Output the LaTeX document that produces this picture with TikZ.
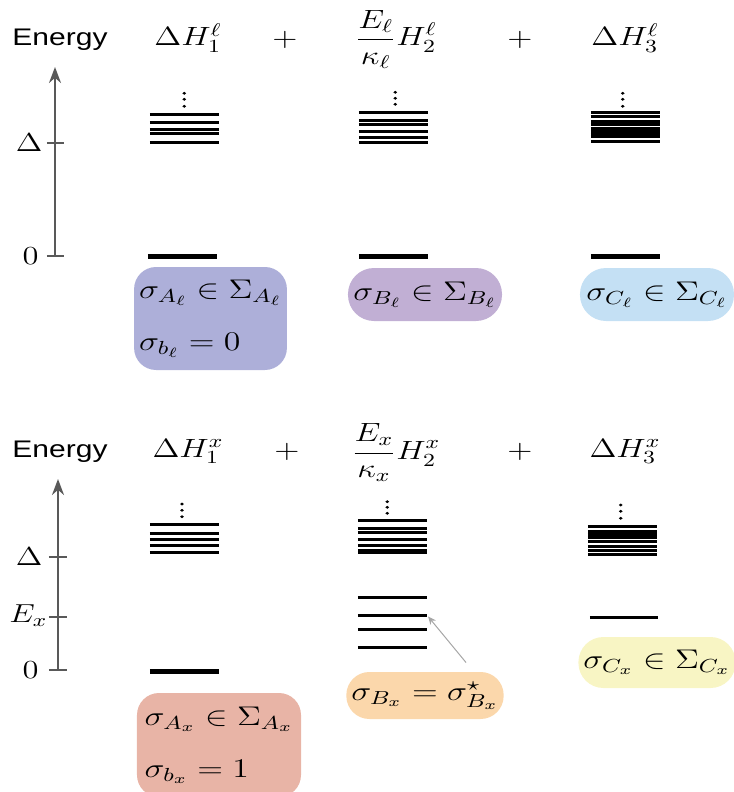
\RequirePackage{fix-cm}
\documentclass[tikz,border=0pt]{standalone}
\usepackage{fontspec}
\setsansfont{Liberation Sans}
\usetikzlibrary{arrows.meta,calc}

\definecolor{boxAl}{RGB}{173,175,217}
\definecolor{boxBl}{RGB}{193,175,212}
\definecolor{boxCl}{RGB}{196,224,244}
\definecolor{boxAx}{RGB}{232,180,166}
\definecolor{boxBx}{RGB}{251,215,171}
\definecolor{boxCx}{RGB}{248,245,196}

\tikzset{
	energy/.style={font=\fontsize{12}{14}\selectfont\sffamily},
	head/.style={font=\fontsize{13.2}{15}\selectfont, inner sep=0pt},
	lbl/.style={font=\fontsize{13}{16}\selectfont, inner sep=0pt},
	axis/.style={line width=1pt, black!65},
	lvl/.style={line width=1.5pt},
	gnd/.style={line width=2.5pt},
	pill/.style={font=\fontsize{13.5}{26}\selectfont, inner xsep=2pt, rounded corners=13pt},
	pointer/.style={line width=.5pt, black!35, -{Stealth[length=4pt, width=3.5pt]}}
}

\begin{document}
\begin{tikzpicture}[xscale=1.25, x=0.4pt, y=-0.5pt, transform shape]
	\useasboundingbox (0,0) rectangle (734,792);
	
	% upper panel
	\node[energy, anchor=base] (en1) at (60,46){Energy};
	\draw[axis, -{Stealth[length=8pt, width=6pt]}] (55,256) -- (55,67);
	\draw[axis] (47,143) -- (64,143);
	\draw[axis] (47,256) -- (64,256);
	\node[lbl, anchor=east] (d1) at (43,143){$\Delta$};
	\node[lbl, anchor=east] (z1) at (39,256){$0$};
	
	\node[head, anchor=base] (h1l) at (188,46){$\Delta H_1^\ell$};
	\node[head] (p1l) at (285,40){$+$};
	\node[head, anchor=base] (h2l) at (396,46){$\displaystyle\frac{E_\ell}{\kappa_\ell}H_2^\ell$};
	\node[head] (p2l) at (520,40){$+$};
	\node[head, anchor=base] (h3l) at (625,46){$\Delta H_3^\ell$};
	
	\foreach \y in {114.3,122.3,129.3,134,142.3} \draw[lvl] (150,\y) -- (219,\y);
	\foreach \y in {93.3,99.3,106.3} \fill (184.3,\y) circle (.75pt);
	\draw[gnd] (148,256) -- (217,256);
	
	\foreach \y in {112.3,120.3,124.3,131.3,137.3,142.3} \draw[lvl] (359,\y) -- (428,\y);
	\foreach \y in {92.3,98.3,104.3} \fill (395.3,\y) circle (.75pt);
	\draw[gnd] (359,256) -- (428,256);
	
	\foreach \y in {112.3,116.3,121.5,124.2,128.5,131.5,134.5,136.2,141.7} \draw[lvl] (591,\y) -- (660,\y);
	\foreach \y in {93.3,99.3,106.3} \fill (622.7,\y) circle (.75pt);
	\draw[gnd] (591,256) -- (660,256);
	
	\node[pill, fill=boxAl, align=left, rounded corners=11pt, minimum width=59pt, minimum height=51.5pt] (sal) at (210.5,318.5){$\sigma_{A_\ell}\in\Sigma_{A_\ell}$\\$\sigma_{b_\ell}=0$};
	\node[pill, fill=boxBl, minimum width=61.6pt, minimum height=26.5pt] (sbl) at (425,294.5){$\sigma_{B_\ell}\in\Sigma_{B_\ell}$};
	\node[pill, fill=boxCl, minimum width=61.6pt, minimum height=26.5pt] (scl) at (657,294.5){$\sigma_{C_\ell}\in\Sigma_{C_\ell}$};
	
	% lower panel
	\node[energy, anchor=base] (en2) at (60,457){Energy};
	\draw[axis, -{Stealth[length=8pt, width=6pt]}] (58,670) -- (58,479);
	\draw[axis] (49,557) -- (67,557);
	\draw[axis] (49,617) -- (67,617);
	\draw[axis] (49,670) -- (67,670);
	\node[lbl, anchor=east] (d2) at (43,557){$\Delta$};
	\node[lbl, anchor=east] (ex2) at (48,616){$E_x$};
	\node[lbl, anchor=east] (z2) at (39,670){$0$};
	
	\node[head, anchor=base] (h1x) at (188,457.3){$\Delta H_1^x$};
	\node[head] (p1x) at (287,452){$+$};
	\node[head, anchor=base] (h2x) at (396,459.5){$\displaystyle\frac{E_x}{\kappa_x}H_2^x$};
	\node[head] (p2x) at (520,452){$+$};
	\node[head, anchor=base] (h3x) at (625,457.3){$\Delta H_3^x$};
	
	\foreach \y in {524,533.3,539.3,545.3,552.3} \draw[lvl] (150,\y) -- (219,\y);
	\foreach \y in {504,510.3,516.7} \fill (182,\y) circle (.75pt);
	\draw[gnd] (150,671.5) -- (219,671.5);
	
	\foreach \y in {520.3,528.3,532.3,539.3,545.3,550.8,552.2,597.3,615.3,629.3,647.3} \draw[lvl] (358,\y) -- (427,\y);
	\foreach \y in {501.7,507.3,513.3} \fill (387.3,\y) circle (.75pt);
	\coordinate (bxlevel) at (428,616.5);
	
	\foreach \y in {526,531.5,534.5,537.5,541.2,546,550,554.3} \draw[lvl] (588,\y) -- (657,\y);
	\foreach \y in {505,511.3,518.3} \fill (620.7,\y) circle (.75pt);
	\draw[lvl] (590,617.3) -- (658,617.3);
	
	\node[pill, fill=boxAx, align=left, rounded corners=11pt, minimum width=65.6pt, minimum height=52pt] (sax) at (219,745){$\sigma_{A_x}\in\Sigma_{A_x}$\\$\sigma_{b_x}=1$};
	\node[pill, fill=boxBx, rounded corners=11.5pt, minimum width=62.4pt, minimum height=23.5pt] (sbx) at (425,695.5){$\sigma_{B_x}=\sigma^\star_{B_x}$};
	\node[pill, fill=boxCx, rounded corners=12.5pt, minimum width=61.6pt, minimum height=25.5pt] (scx) at (657,662.5){$\sigma_{C_x}\in\Sigma_{C_x}$};
	
	\draw[pointer] ($(sbx.north)+(41,-9)$) -- (bxlevel);
\end{tikzpicture}
\end{document}
